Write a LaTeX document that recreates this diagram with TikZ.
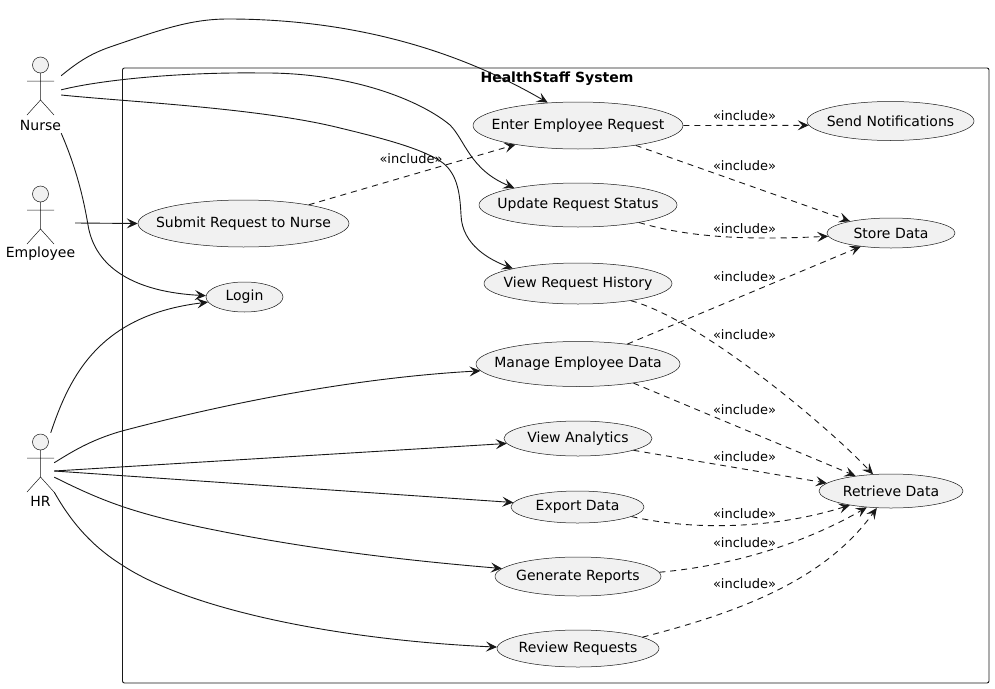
\documentclass[tikz,border=0pt]{standalone}
\usepackage{fontspec}
\setmainfont{DejaVu Sans}
\usetikzlibrary{arrows.meta,shapes.geometric}
\definecolor{umlink}{HTML}{181818}
\definecolor{umlfill}{HTML}{F1F1F1}
\tikzset{
  usecase/.style={ellipse,draw=umlink,line width=0.5pt,fill=umlfill,inner sep=0pt},
  every label/.style={font=\fontsize{14}{16}\selectfont,text=black,inner sep=0pt},
  actorbox/.style={inner sep=0pt,minimum width=#1,minimum height=76pt},
  actorname/.style={font=\fontsize{14}{16}\selectfont,inner sep=0pt},
  incl/.style={font=\fontsize{13}{15}\selectfont,inner sep=0pt},
  assoc/.style={umlink,line width=0.9pt,-{Stealth[length=11pt,width=10pt,inset=4.5pt]}},
  dep/.style={assoc,dash pattern=on 6pt off 5pt},
  stickman/.pic={
    \draw[umlink,line width=0.5pt,fill=umlfill] (0,0) circle[radius=8];
    \draw[umlink,line width=0.5pt] (0,8) -- (0,35) (-13.5,16) -- (13.5,16)
      (-13.5,50) -- (0,35) -- (13.5,50);
  }
}

\begin{document}
\begin{tikzpicture}[x=1pt,y=-1pt]
  \useasboundingbox (0,0) rectangle (995,688);

  % System boundary
  \draw[umlink,line width=0.9pt,rounded corners=2pt] (122.5,68) rectangle (989,683);
  \node[font=\bfseries\fontsize{14}{16}\selectfont,inner sep=0pt] (title) at (557,79) {HealthStaff System};

  % Actors
  \path (40.5,65) pic {stickman};
  \path (40.5,194) pic {stickman};
  \path (40.5,442) pic {stickman};
  \node[actorname] (nursename) at (40.5,125) {Nurse};
  \node[actorname] (employeename) at (40.5,254) {Employee};
  \node[actorname] (hrname) at (40.5,501) {HR};
  \node[actorbox=41pt] (nurse) at (40.5,95) {};
  \node[actorbox=69pt] (employee) at (40.5,223) {};
  \node[actorbox=27pt] (hr) at (40.5,471) {};

  % Use cases
  \node[usecase,minimum width=210pt,minimum height=47pt,label=center:{Enter Employee Request}] (enter) at (578,125.5) {};
  \node[usecase,minimum width=167pt,minimum height=39pt,label=center:{Send Notifications}] (send) at (890.5,121) {};
  \node[usecase,minimum width=128pt,minimum height=30pt,label=center:{Store Data}] (store) at (891,233) {};
  \node[usecase,minimum width=198pt,minimum height=44pt,label=center:{Update Request Status}] (update) at (578,205) {};
  \node[usecase,minimum width=188pt,minimum height=41pt,label=center:{View Request History}] (history) at (578,283.5) {};
  \node[usecase,minimum width=211pt,minimum height=47pt,label=center:{Submit Request to Nurse}] (submit) at (243.5,223.5) {};
  \node[usecase,minimum width=77pt,minimum height=30pt,label=center:{Login}] (login) at (244.5,297) {};
  \node[usecase,minimum width=204pt,minimum height=45pt,label=center:{Manage Employee Data}] (manage) at (578,364) {};
  \node[usecase,minimum width=148pt,minimum height=35pt,label=center:{View Analytics}] (analytics) at (578,438.5) {};
  \node[usecase,minimum width=133pt,minimum height=32pt,label=center:{Export Data}] (export) at (577.5,507) {};
  \node[usecase,minimum width=166pt,minimum height=39pt,label=center:{Generate Reports}] (generate) at (578,576.5) {};
  \node[usecase,minimum width=162pt,minimum height=37pt,label=center:{Review Requests}] (review) at (578,648.5) {};
  \node[usecase,minimum width=144pt,minimum height=34pt,label=center:{Retrieve Data}] (retrieve) at (891,491) {};

  % Nurse and employee
  \draw[assoc] (nurse.43) .. controls (78,62) and (90,54) .. (110,47) .. controls (160,30) and (190,19) .. (228,19) .. controls (330,19) and (440,40) .. (enter.143);
  \draw[assoc] (nurse.14) .. controls (100,80) and (180,72) .. (260,73) .. controls (350,72) and (420,100) .. (450,125) .. controls (465,140) and (470,170) .. (update.165);
  \draw[assoc] (nurse.east) .. controls (130,102) and (260,108) .. (340,128) .. controls (390,140) and (425,150) .. (443,163) .. controls (458,175) and (460,195) .. (461,215) .. controls (462,245) and (490,260) .. (history.167);
  \draw[assoc] (nurse.south east) .. controls (75,165) and (83,195) .. (88,225) .. controls (95,268) and (135,292) .. (login.178);
  \draw[assoc] (employee.east) -- (submit.west);

  % HR
  \draw[assoc] (hr.75) .. controls (70,375) and (100,315) .. (login.188);
  \draw[assoc] (hr.31) .. controls (70,453) and (90,440) .. (122,431) .. controls (220,405) and (350,378) .. (manage.184);
  \draw[assoc] (hr.east) -- (analytics.184);
  \draw[assoc] (hr.east) -- (export.176);
  \draw[assoc] (hr.336) .. controls (100,500) and (130,512) .. (200,527) .. controls (300,548) and (400,560) .. (generate.174);
  \draw[assoc] (hr.303) .. controls (70,520) and (90,545) .. (122,565) .. controls (190,610) and (340,640) .. (review.179);

  % Includes
  \draw[dep] (submit.16) -- (enter.197);
  \draw[dep] (enter.east) -- (send.183);
  \draw[dep] (enter.341) -- (store.164);
  \draw[dep] (update.344) .. controls (690,238) and (750,240) .. (store.183);
  \draw[dep] (history.342) .. controls (699,319) and (823,422) .. (retrieve.137);
  \draw[dep] (manage.22) -- (store.204);
  \draw[dep] (manage.341) -- (retrieve.157);
  \draw[dep] (analytics.348) -- (retrieve.173);
  \draw[dep] (export.350) .. controls (690,530) and (770,530) .. (retrieve.199);
  \draw[dep] (generate.3) .. controls (740,565) and (810,540) .. (retrieve.214);
  \draw[dep] (review.10) .. controls (740,612) and (825,580) .. (retrieve.230);

  % Include labels
  \node[incl] (inc1) at (411,159) {«include»};
  \node[incl] (inc2) at (744.5,116) {«include»};
  \node[incl] (inc3) at (744.5,166) {«include»};
  \node[incl] (inc4) at (744.5,229) {«include»};
  \node[incl] (inc5) at (744.5,277) {«include»};
  \node[incl] (inc6) at (744.5,335) {«include»};
  \node[incl] (inc7) at (744.5,410) {«include»};
  \node[incl] (inc8) at (744.5,457) {«include»};
  \node[incl] (inc9) at (744.5,514) {«include»};
  \node[incl] (inc10) at (744.5,543) {«include»};
  \node[incl] (inc11) at (744.5,584) {«include»};
\end{tikzpicture}
\end{document}
